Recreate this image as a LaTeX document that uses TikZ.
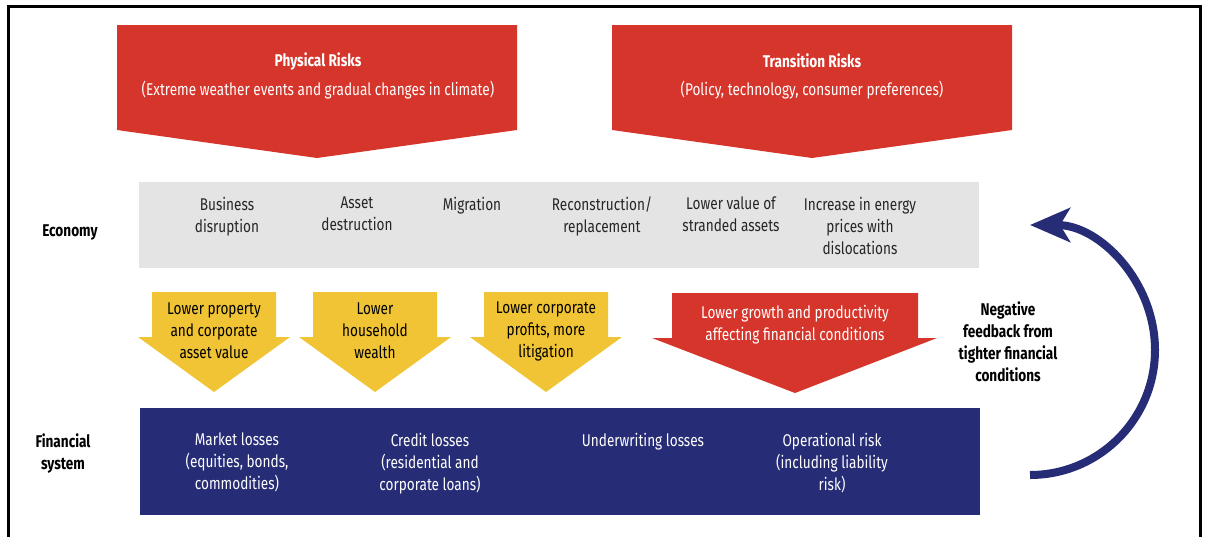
\documentclass[tikz,border=0pt]{standalone}
\usepackage{fontspec}
\setmainfont{Fira Sans}[FakeStretch=0.8]
\usepackage{tikz}
\usetikzlibrary{arrows.meta}
\definecolor{riskred}{RGB}{214,53,43}
\definecolor{chanyellow}{RGB}{240,196,52}
\definecolor{econgray}{RGB}{228,228,228}
\definecolor{finblue}{RGB}{38,45,118}
\tikzstyle{sidelabel}=[font=\bfseries\fontsize{17}{22}\selectfont,align=center,inner sep=0pt]
\tikzstyle{item}=[font=\fontsize{17}{22}\selectfont,align=center,inner sep=0pt,anchor=north]
\tikzstyle{econitem}=[item,text=black!85]
\tikzstyle{finitem}=[item,text=white]
\tikzstyle{chantext}=[font=\fontsize{17}{22}\selectfont,align=center,inner sep=0pt]
\tikzstyle{block}=[draw=none,minimum width=840pt,inner sep=0pt]

\begin{document}
\begin{tikzpicture}[x=1pt,y=-1pt]
      \useasboundingbox (0,0) rectangle (1210,536);
      \clip (0,0) rectangle (1210,536);
      \draw[line width=3pt] (8,560) -- (8,6) -- (1200,6) -- (1200,560);

      % risk sources
      \foreach \l/\r in {117/517,612/1012}{
        \path[fill=riskred] (\l,25) -- (\r,25) -- (\r,130) -- ({(\l+\r)/2},158) -- (\l,130) -- cycle;
      }
      \node[sidelabel,text=white] (physt) at (318,61) {Physical Risks};
      \node[chantext,text=white] (physs) at (318,90) {(Extreme weather events and gradual changes in climate)};
      \node[sidelabel,text=white] (trant) at (812,61) {Transition Risks};
      \node[chantext,text=white] (trans) at (812,90) {(Policy, technology, consumer preferences)};

      % economy
      \node[block,fill=econgray,minimum height=86pt] (econ) at (559,225) {};
      \node[sidelabel] (econl) at (70,232) {Economy};
      \foreach \x/\txt in {227/{Business\\disruption},357/{Asset\\destruction},472/{Migration},
          602/{Reconstruction/\\replacement},731/{Lower value of\\stranded assets},
          860/{Increase in energy\\prices with\\dislocations}}{
        \node[econitem] at (\x,197) {\txt};
      }

      % transmission channels
      \foreach \cx/\txt in {214/{Lower property\\and corporate\\asset value},375/{Lower\\household\\wealth},
          546/{Lower corporate\\profits, more\\litigation}}{
        \path[fill=chanyellow] (\cx-62,292) -- (\cx+62,292) -- (\cx+62,337) -- (\cx+76,337)
          -- (\cx,392) -- (\cx-76,337) -- (\cx-62,337) -- cycle;
        \node[chantext] at (\cx,331) {\txt};
      }
      \path[fill=riskred] (672,293) -- (918,293) -- (918,338) -- (937,338) -- (795,393)
        -- (652,338) -- (672,338) -- cycle;
      \node[chantext,text=white] (growth) at (795,325) {Lower growth and productivity\\affecting financial conditions};

      % financial system
      \node[block,fill=finblue,minimum height=107pt] (fin) at (560,461.5) {};
      \node[sidelabel] (finl) at (63,453) {Financial\\system};
      \foreach \x/\txt in {237/{Market losses\\(equities, bonds,\\commodities)},
          430/{Credit losses\\(residential and\\corporate loans)},643/{Underwriting losses},
          832/{Operational risk\\(including liability\\risk)}}{
        \node[finitem] at (\x,433) {\txt};
      }

      % feedback
      \node[sidelabel] (fback) at (1008,342) {Negative\\feedback from\\tighter financial\\conditions};
      \coordinate (fbfrom) at (1030,475);
      \draw[finblue,line width=8pt,-{Stealth[length=40pt,width=34pt,inset=10pt]}]
        (fbfrom) arc[start angle=90,end angle=-90,radius=125];

    \end{tikzpicture}
\end{document}
